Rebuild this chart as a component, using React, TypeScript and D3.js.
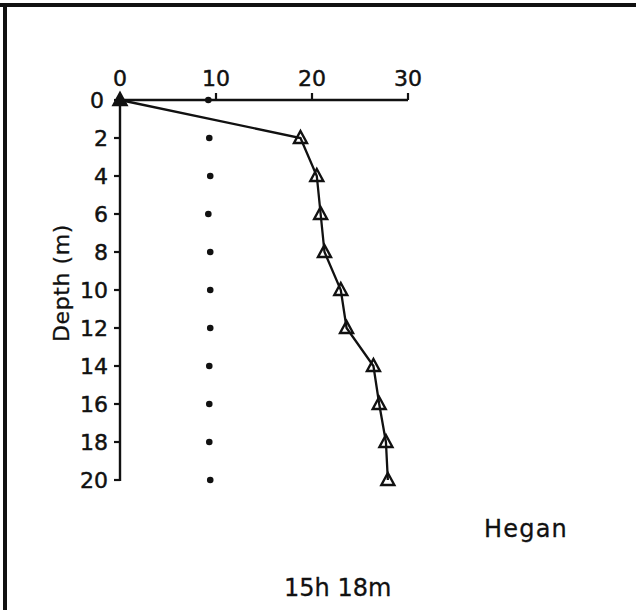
import React from "react";
import * as d3 from "d3";

// Depth profile (m) with two measured series
const depths = [0, 2, 4, 6, 8, 10, 12, 14, 16, 18, 20];
const triangleValues = [0, 18.8, 20.5, 20.9, 21.3, 23.0, 23.6, 26.4, 27.0, 27.7, 27.9];
const dotValues = [9.2, 9.3, 9.4, 9.2, 9.4, 9.4, 9.4, 9.3, 9.3, 9.3, 9.4];
const xTicks = [0, 10, 20, 30];
const yTicks = [0, 2, 4, 6, 8, 10, 12, 14, 16, 18, 20];

const W = 636;
const H = 610;
const FONT = "'DejaVu Sans', Verdana, sans-serif";
const INK = "#111";

// light outline to give the labels a slightly heavier stroke
const textStyle = { stroke: INK, strokeWidth: 0.45 } as const;

export default function App() {
  const x = d3.scaleLinear().domain([0, 30]).range([120, 408]);
  const y = d3.scaleLinear().domain([0, 20]).range([100, 480]);

  const triPoints = depths.map((d, i) => [x(triangleValues[i]), y(d)] as [number, number]);
  const line = d3.line()(triPoints) || "";

  const triangle = (cx: number, cy: number) => {
    const p = d3.path();
    p.moveTo(cx, cy - 7);
    p.lineTo(cx + 6.5, cy + 5);
    p.lineTo(cx - 6.5, cy + 5);
    p.closePath();
    return p.toString();
  };

  return (
    <svg
      width={W}
      height={H}
      style={{ position: "absolute", left: 0, top: 0, background: "#fff" }}
      fontFamily={FONT}
    >
      <rect x={0} y={0} width={W} height={H} fill="#fff" />
      {/* frame */}
      <line x1={0} y1={5} x2={W} y2={5} stroke={INK} strokeWidth={4} />
      <line x1={5} y1={3} x2={5} y2={H} stroke={INK} strokeWidth={4} />

      {/* x axis along the top */}
      <line x1={x(0)} y1={y(0)} x2={x(30)} y2={y(0)} stroke={INK} strokeWidth={2.4} />
      {xTicks.map((t) => (
        <g key={"xt" + t}>
          {t > 0 && (
            <line x1={x(t)} y1={y(0)} x2={x(t)} y2={y(0) - 7} stroke={INK} strokeWidth={2.2} />
          )}
          <text x={x(t)} y={y(0) - 14} textAnchor="middle" fontSize={22} fill={INK} style={textStyle}>
            {t}
          </text>
        </g>
      ))}

      {/* y axis */}
      <line x1={x(0)} y1={y(0)} x2={x(0)} y2={y(20) + 1} stroke={INK} strokeWidth={2.4} />
      {yTicks.map((t) => (
        <g key={"yt" + t}>
          <line x1={x(0) - 6} y1={y(t)} x2={x(0)} y2={y(t)} stroke={INK} strokeWidth={2.2} />
          <text
            x={t === 0 ? x(0) - 16 : x(0) - 12}
            y={y(t)}
            dy="0.36em"
            textAnchor="end"
            fontSize={22}
            fill={INK}
            style={textStyle}
          >
            {t}
          </text>
        </g>
      ))}
      <text
        transform={`translate(${69},${283}) rotate(-90)`}
        textAnchor="middle"
        fontSize={22}
        letterSpacing={0.6}
        fill={INK}
        style={{ stroke: INK, strokeWidth: 0.3 }}
      >
        Depth (m)
      </text>

      {/* dot series */}
      {depths.map((d, i) => (
        <circle key={"dot" + i} cx={x(dotValues[i])} cy={y(d)} r={3.3} fill={INK} />
      ))}

      {/* triangle series */}
      <path d={line} fill="none" stroke={INK} strokeWidth={2.3} />
      {triPoints.map(([cx, cy], i) => (
        <path
          key={"tri" + i}
          d={triangle(cx, cy)}
          fill={i === 0 ? INK : "none"}
          stroke={INK}
          strokeWidth={2.4}
          strokeLinejoin="miter"
        />
      ))}

      <text x={484} y={537} fontSize={24} letterSpacing={1.2} fill={INK} style={{ stroke: INK, strokeWidth: 0.3 }}>
        Hegan
      </text>
      <text x={284} y={596} fontSize={24} fill={INK} style={{ stroke: INK, strokeWidth: 0.3 }}>
        15h 18m
      </text>
    </svg>
  );
}
